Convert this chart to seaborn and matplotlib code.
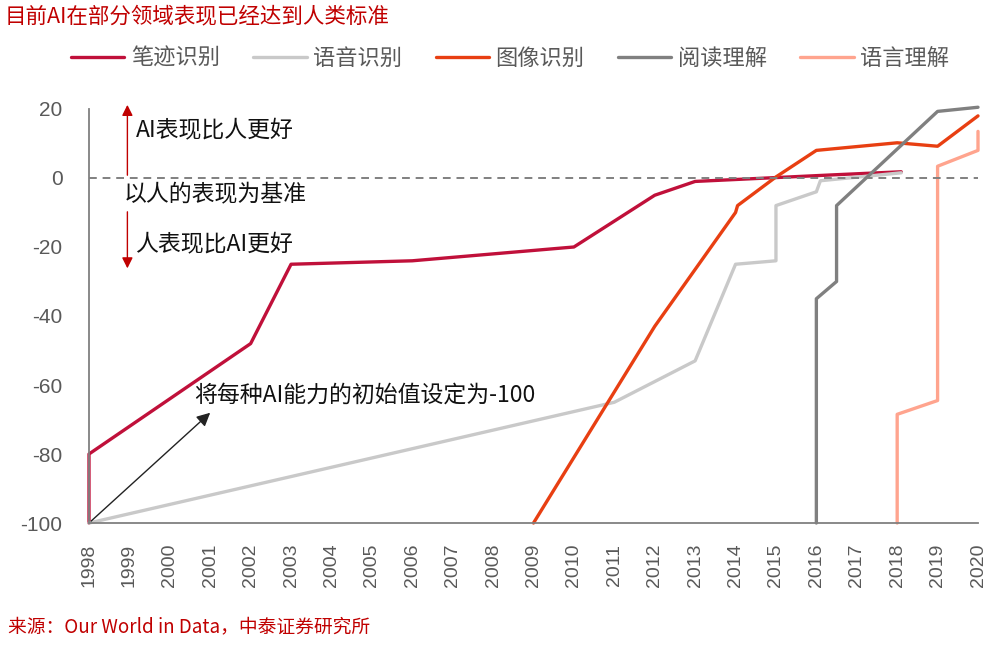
import pandas as pd
import matplotlib
matplotlib.use("Agg")
import matplotlib.pyplot as plt
import seaborn as sns

# series (year, score relative to human = 0)
hand_x = [1998, 1998, 2002, 2003, 2006, 2010, 2012, 2013, 2016.4, 2018.1]
hand_y = [-100, -80, -48, -25, -24, -20, -5, -1, 0.9, 1.8]

speech_x = [1998, 2011, 2013, 2014, 2015, 2015, 2016, 2016.1, 2018.1]
speech_y = [-100, -65, -53, -25, -24, -8, -4, -0.8, 1.5]

image_x = [2009, 2012, 2014, 2014.05, 2015, 2016, 2018, 2019, 2020]
image_y = [-100, -43, -10, -8, 0.3, 8, 10.2, 9.2, 18]

reading_x = [2016, 2016, 2016.5, 2016.5, 2019, 2020]
reading_y = [-100, -35, -30, -8, 19.3, 20.5]

lang_x = [2018, 2018, 2019, 2019, 2020, 2020]
lang_y = [-100, -68.5, -64.5, 3.4, 8, 13.5]

names = ["笔迹识别", "语音识别", "图像识别", "阅读理解", "语言理解"]
colors = ["#C0103A", "#C9C9C9", "#E83F12", "#808080", "#FFA48E"]
years = list(range(1998, 2021))
yticks = [-100, -80, -60, -40, -20, 0, 20]

sns.set_theme(style="white")
plt.rcParams["font.family"] = ["Noto Sans CJK SC", "DejaVu Sans"]

fig = plt.figure(figsize=(10, 6.51), dpi=100)
ax = fig.add_axes([0.089, 0.1966, 0.889, 0.636])

series = [(hand_x, hand_y), (speech_x, speech_y), (image_x, image_y),
          (reading_x, reading_y), (lang_x, lang_y)]
for (xs, ys), name, c in zip(series, names, colors):
    df = pd.DataFrame({"year": xs, "val": ys})
    sns.lineplot(data=df, x="year", y="val", ax=ax, color=c, lw=2.4,
                 estimator=None, sort=False, label=name, clip_on=False)

ax.axhline(0, color="#808080", lw=1.4, ls=(0, (4, 3)))

ax.set_xlim(1998, 2020)
ax.set_ylim(-100, 20)
ax.set_xticks(years)
ax.set_xticklabels([str(y) for y in years], rotation=90,
                   family="Liberation Sans", fontsize=14, color="#595959")
ax.set_yticks(yticks)
ax.set_yticklabels([str(v) for v in yticks], family="Liberation Sans",
                   fontsize=15, color="#595959")
ax.set_xlabel("")
ax.set_ylabel("")
for s in ["top", "right"]:
    ax.spines[s].set_visible(False)
for s in ["left", "bottom"]:
    ax.spines[s].set_color("#808080")
    ax.spines[s].set_linewidth(1.3)
ax.tick_params(axis="both", direction="out", length=5, width=1.3,
               color="#808080")
ax.tick_params(axis="x", pad=10)
ax.tick_params(axis="y", pad=14)

# annotations
red = "#C00000"
ax.annotate("", xy=(1998.95, 22), xytext=(1998.95, 0),
            arrowprops=dict(arrowstyle="-|>", color=red, lw=1.0,
                            mutation_scale=16), annotation_clip=False)
ax.annotate("", xy=(1998.95, -27), xytext=(1998.95, -9),
            arrowprops=dict(arrowstyle="-|>", color=red, lw=1.0,
                            mutation_scale=16))
ax.text(1999.15, 14, "AI表现比人更好", fontsize=16.5, color="#111111", va="center")
ax.text(1998.85, -4.7, "以人的表现为基准", fontsize=16.5, color="#111111", va="center")
ax.text(1999.15, -19, "人表现比AI更好", fontsize=16.5, color="#111111", va="center")
ax.annotate("", xy=(2001.05, -67.5), xytext=(1998, -100),
            arrowprops=dict(arrowstyle="-|>", color="#222222", lw=1.0,
                            mutation_scale=20))
ax.text(2000.6, -62.8, "将每种AI能力的初始值设定为-100", fontsize=16.5,
        color="#111111", va="center")

handles, labels = ax.get_legend_handles_labels()
ax.legend_.remove()
fig.legend(handles, labels, loc="center", bbox_to_anchor=(0.51, 0.911),
           ncol=5, frameon=False, fontsize=16, handlelength=2.4,
           columnspacing=1.5, handletextpad=0.3, labelcolor="#595959")

fig.text(0.005, 0.975, "目前AI在部分领域表现已经达到人类标准", fontsize=15.5,
         color="#C00000", va="center")
fig.text(0.008, 0.037, "来源：Our World in Data，中泰证券研究所", fontsize=13.5,
         color="#C00000", va="center")

fig.savefig("out.png", dpi=100)
